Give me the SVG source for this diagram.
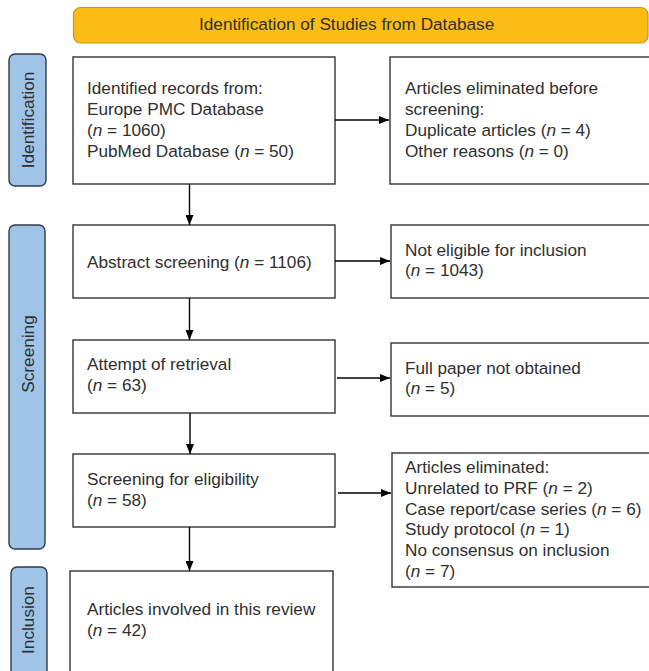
<svg xmlns="http://www.w3.org/2000/svg" width="649" height="671" viewBox="0 0 649 671">
<defs>
<style>
.t{font-family:"Liberation Sans",Arial,sans-serif;font-size:17.2px;fill:#2f2f2f}
.i{font-style:italic}
.box{fill:#fff;stroke:#333;stroke-width:1.4}
.side{fill:#9fc4e8;stroke:#2f3a46;stroke-width:1.4}
.ban{fill:#fbbd14;stroke:#c9981a;stroke-width:1.2}
.c{stroke:#000;stroke-width:1.4;fill:none}
</style>
<marker id="ah" viewBox="0 0 10 8" refX="10" refY="4" markerWidth="10" markerHeight="8" markerUnits="userSpaceOnUse" orient="auto">
<path d="M0,0 L10,4 L0,8 Z" fill="#000"/>
</marker>
</defs>
<rect width="649" height="671" fill="#fff"/>

<g id="banner">
<rect class="ban" x="73.5" y="7.5" width="574.5" height="35.5" rx="7"/>
<text class="t" x="199" y="29.5">Identification of Studies from Database</text>
</g>

<g id="side-identification">
<rect class="side" x="9" y="54" width="37" height="132" rx="6"/>
<text class="t" transform="translate(33.5,120) rotate(-90)" text-anchor="middle">Identification</text>
</g>
<g id="side-screening">
<rect class="side" x="9" y="225" width="36" height="324" rx="6"/>
<text class="t" transform="translate(33.5,354) rotate(-90)" text-anchor="middle">Screening</text>
</g>
<g id="side-inclusion">
<rect class="side" x="11" y="567" width="36" height="115" rx="6"/>
<text class="t" transform="translate(34,620) rotate(-90)" text-anchor="middle">Inclusion</text>
</g>

<g id="identified">
<rect class="box" x="73" y="57" width="262" height="127"/>
<text class="t" x="87" y="94.3">Identified records from:</text>
<text class="t" x="87" y="115">Europe PMC Database</text>
<text class="t" x="87" y="136">(<tspan class="i">n</tspan> = 1060)</text>
<text class="t" x="87" y="156.7">PubMed Database (<tspan class="i">n</tspan> = 50)</text>
</g>
<g id="eliminated-before">
<rect class="box" x="390" y="57" width="264" height="127"/>
<text class="t" x="405" y="94.3">Articles eliminated before</text>
<text class="t" x="405" y="115">screening:</text>
<text class="t" x="405" y="136">Duplicate articles (<tspan class="i">n</tspan> = 4)</text>
<text class="t" x="405" y="156.7">Other reasons (<tspan class="i">n</tspan> = 0)</text>
</g>

<g id="abstract">
<rect class="box" x="73" y="225" width="262" height="73"/>
<text class="t" x="87" y="268">Abstract screening (<tspan class="i">n</tspan> = 1106)</text>
</g>
<g id="not-eligible">
<rect class="box" x="391" y="225" width="264" height="73"/>
<text class="t" x="405" y="255.5">Not eligible for inclusion</text>
<text class="t" x="405" y="276">(<tspan class="i">n</tspan> = 1043)</text>
</g>

<g id="retrieval">
<rect class="box" x="73" y="340" width="262" height="73"/>
<text class="t" x="87" y="370">Attempt of retrieval</text>
<text class="t" x="87" y="390.7">(<tspan class="i">n</tspan> = 63)</text>
</g>
<g id="not-obtained">
<rect class="box" x="391" y="343" width="264" height="73"/>
<text class="t" x="405" y="373.5">Full paper not obtained</text>
<text class="t" x="405" y="394">(<tspan class="i">n</tspan> = 5)</text>
</g>

<g id="eligibility">
<rect class="box" x="73" y="454" width="262" height="73"/>
<text class="t" x="87" y="485">Screening for eligibility</text>
<text class="t" x="87" y="505.7">(<tspan class="i">n</tspan> = 58)</text>
</g>
<g id="eliminated">
<rect class="box" x="392" y="453" width="264" height="134"/>
<text class="t" x="405" y="473.3">Articles eliminated:</text>
<text class="t" x="405" y="494">Unrelated to PRF (<tspan class="i">n</tspan> = 2)</text>
<text class="t" x="405" y="514.5">Case report/case series (<tspan class="i">n</tspan> = 6)</text>
<text class="t" x="405" y="535">Study protocol (<tspan class="i">n</tspan> = 1)</text>
<text class="t" x="405" y="555.6">No consensus on inclusion</text>
<text class="t" x="405" y="576.5">(<tspan class="i">n</tspan> = 7)</text>
</g>

<g id="included">
<rect class="box" x="70" y="571" width="263" height="115"/>
<text class="t" x="87" y="615">Articles involved in this review</text>
<text class="t" x="87" y="635.7">(<tspan class="i">n</tspan> = 42)</text>
</g>

<g id="connectors">
<line class="c" x1="189.5" y1="184" x2="189.5" y2="225" marker-end="url(#ah)"/>
<line class="c" x1="189.5" y1="298" x2="189.5" y2="340" marker-end="url(#ah)"/>
<line class="c" x1="190" y1="413" x2="190" y2="454" marker-end="url(#ah)"/>
<line class="c" x1="189.5" y1="527" x2="189.5" y2="571" marker-end="url(#ah)"/>
<line class="c" x1="335" y1="120" x2="389" y2="120" marker-end="url(#ah)"/>
<line class="c" x1="335" y1="261" x2="390" y2="261" marker-end="url(#ah)"/>
<line class="c" x1="337" y1="378" x2="390" y2="378" marker-end="url(#ah)"/>
<line class="c" x1="338" y1="493" x2="391" y2="493" marker-end="url(#ah)"/>
</g>
</svg>
